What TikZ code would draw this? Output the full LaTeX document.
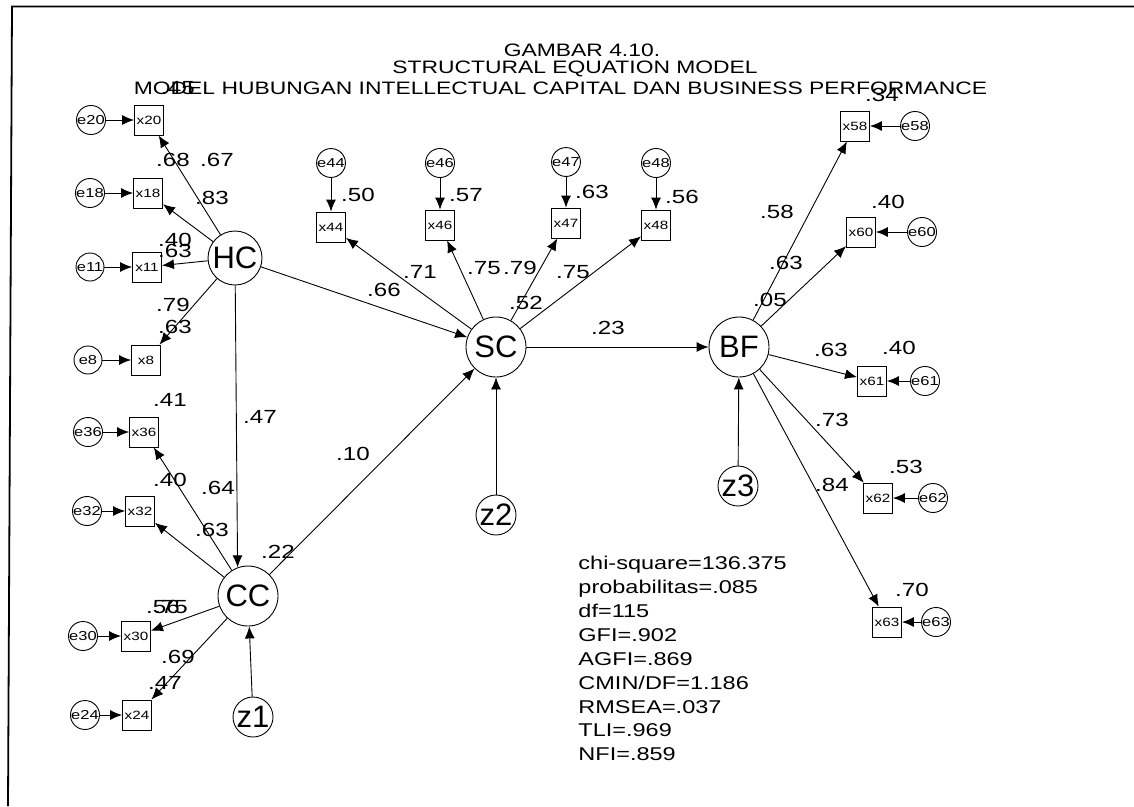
\documentclass[tikz,border=0pt]{standalone}
\usepackage{fontspec}
\setmainfont{Liberation Sans}
\newfontfamily\wf[FakeStretch=1.27]{Liberation Sans}
\usetikzlibrary{arrows.meta}
\begin{document}
\begin{tikzpicture}[x=1pt,y=-1pt,
  every path/.style={line width=0.9pt},
  lat/.style={circle, draw, minimum size=60pt, inner sep=0pt, font=\fontsize{31}{31}\selectfont},
  dist/.style={circle, draw, minimum size=40pt, inner sep=0pt, font=\fontsize{31}{31}\selectfont},
  ind/.style={rectangle, draw, minimum width=29pt, minimum height=30pt, inner sep=0pt, font=\wf\fontsize{12}{12}\selectfont},
  err/.style={circle, draw, minimum size=28pt, inner sep=0pt, font=\wf\fontsize{13}{13}\selectfont},
  lbl/.style={inner sep=0pt, font=\wf\fontsize{19}{19}\selectfont},
  ttl/.style={inner sep=0pt, font=\wf\fontsize{18}{18}\selectfont},
  stat/.style={inner sep=0pt, anchor=base west, font=\wf\fontsize{18.5}{18.5}\selectfont},
  arr/.style={-{Latex[length=12pt,width=10pt]}},
  frame/.style={line width=1.8pt}]
\useasboundingbox (0,0) rectangle (1134,806);
\fill[white] (0,0) rectangle (1134,806);
% frame
\coordinate (fa) at (8,806);
\coordinate (fb) at (12,6.5);
\coordinate (fc) at (1134,6.5);
\draw[frame] (fa) -- (fb) -- (fc);
% title
\node[ttl] (t1) at (582,50) {GAMBAR 4.10.};
\node[ttl] (t2) at (575,69) {STRUCTURAL EQUATION MODEL};
\node[ttl] (t3) at (560.5,88) {MODEL HUBUNGAN INTELLECTUAL CAPITAL DAN BUSINESS PERFORMANCE};
% latent variables
\node[lat, minimum size=54pt] (HC) at (235,258) {HC};
\node[lat] (CC) at (248,596) {CC};
\node[lat] (SC) at (496,347) {SC};
\node[lat] (BF) at (739,347) {BF};
\node[dist] (z1) at (253,717) {z1};
\node[dist] (z2) at (496,515) {z2};
\node[dist] (z3) at (738,486) {z3};
% HC indicators
\node[ind] (x20) at (149,120) {x20}; \node[err] (e20) at (91,120) {e20};
\node[ind] (x18) at (148,193) {x18}; \node[err] (e18) at (90,193) {e18};
\node[ind] (x11) at (147,267) {x11}; \node[err] (e11) at (90,267) {e11};
\node[ind] (x8) at (146,360) {x8};   \node[err] (e8) at (88,360) {e8};
% CC indicators
\node[ind] (x36) at (144,432) {x36}; \node[err] (e36) at (88,432) {e36};
\node[ind] (x32) at (140,511) {x32}; \node[err] (e32) at (87,511) {e32};
\node[ind] (x30) at (136,636) {x30}; \node[err] (e30) at (83,636) {e30};
\node[ind] (x24) at (137,715) {x24}; \node[err] (e24) at (85,715) {e24};
% SC indicators
\node[ind] (x44) at (331,227) {x44}; \node[err] (e44) at (331,163) {e44};
\node[ind] (x46) at (440,225) {x46}; \node[err] (e46) at (440,163) {e46};
\node[ind] (x47) at (566,223) {x47}; \node[err] (e47) at (566,162) {e47};
\node[ind] (x48) at (656,225) {x48}; \node[err] (e48) at (656,163) {e48};
% BF indicators
\node[ind] (x58) at (855,126) {x58}; \node[err] (e58) at (915,126) {e58};
\node[ind] (x60) at (861,232) {x60}; \node[err] (e60) at (922,232) {e60};
\node[ind] (x61) at (872,381) {x61}; \node[err] (e61) at (925,381) {e61};
\node[ind] (x62) at (878,498) {x62}; \node[err] (e62) at (933,498) {e62};
\node[ind] (x63) at (887,622) {x63}; \node[err] (e63) at (936,622) {e63};
% error arrows
\foreach \k in {20,18,11,8,36,32,30,24,44,46,47,48,58,60,61,62,63}
  \draw[arr] (e\k) -- (x\k);
% loadings
\foreach \k in {20,18,11,8} \draw[arr] (HC) -- (x\k);
\foreach \k in {36,32,30,24} \draw[arr] (CC) -- (x\k);
\foreach \k in {44,46,47,48} \draw[arr] (SC) -- (x\k);
\foreach \k in {58,60,61,62,63} \draw[arr] (BF) -- (x\k);
% structural paths
\draw[arr] (HC) -- (SC);
\draw[arr] (HC) -- (CC.110);
\draw[arr] (CC) -- (SC);
\draw[arr] (SC) -- (BF);
\draw[arr] (z1) -- (CC);
\draw[arr] (z2) -- (SC);
\draw[arr] (z3) -- (BF);
% labels HC
\node[lbl] (r20) at (178,88) {.45};
\node[lbl] (r18) at (173,160) {.68};
\node[lbl] (l20) at (217,160) {.67};
\node[lbl] (l18) at (212,198) {.83};
\node[lbl] (r11) at (175,240) {.40};
\node[lbl] (l11) at (175,251) {.63};
\node[lbl] (l8) at (173,305) {.79};
\node[lbl] (r8) at (175,327) {.63};
% labels CC
\node[lbl] (r36) at (170,400) {.41};
\node[lbl] (p1) at (260,417) {.47};
\node[lbl] (r32) at (170,480) {.40};
\node[lbl] (l36) at (218,488) {.64};
\node[lbl] (l32) at (212,530) {.63};
\node[lbl] (rCC) at (278,552) {.22};
\node[lbl] (r30) at (163,607) {.56};
\node[lbl] (l30) at (171,607) {.75};
\node[lbl] (l24) at (178,657) {.69};
\node[lbl] (r24) at (165,683) {.47};
% labels SC
\node[lbl] (r44) at (358,195) {.50};
\node[lbl] (r46) at (466,195) {.57};
\node[lbl] (r47) at (592,192) {.63};
\node[lbl] (r48) at (682,197) {.56};
\node[lbl] (p2) at (384,290) {.66};
\node[lbl] (l44) at (420,272) {.71};
\node[lbl] (l46) at (484,268) {.75};
\node[lbl] (l47) at (520,268) {.79};
\node[lbl] (l48) at (573,272) {.75};
\node[lbl] (rSC) at (526,303) {.52};
\node[lbl] (p3) at (608,328) {.23};
\node[lbl] (p4) at (353,454) {.10};
% labels BF
\node[lbl] (r58) at (882,95) {.34};
\node[lbl] (l58) at (777,212) {.58};
\node[lbl] (r60) at (888,202) {.40};
\node[lbl] (l60) at (786,263) {.63};
\node[lbl] (rBF) at (770,300) {.05};
\node[lbl] (l61) at (831,350) {.63};
\node[lbl] (r61) at (899,348) {.40};
\node[lbl] (l62) at (832,420) {.73};
\node[lbl] (r62) at (906,467) {.53};
\node[lbl] (l63) at (832,485) {.84};
\node[lbl] (r63) at (912,590) {.70};
% fit statistics
\node[stat] (s1) at (578,569.6) {chi-square=136.375};
\node[stat] (s2) at (578,593.5) {probabilitas=.085};
\node[stat] (s3) at (578,617.4) {df=115};
\node[stat] (s4) at (578,641.3) {GFI=.902};
\node[stat] (s5) at (578,665.2) {AGFI=.869};
\node[stat] (s6) at (578,689.1) {CMIN/DF=1.186};
\node[stat] (s7) at (578,713.0) {RMSEA=.037};
\node[stat] (s8) at (578,736.9) {TLI=.969};
\node[stat] (s9) at (578,760.8) {NFI=.859};
\end{tikzpicture}
\end{document}
